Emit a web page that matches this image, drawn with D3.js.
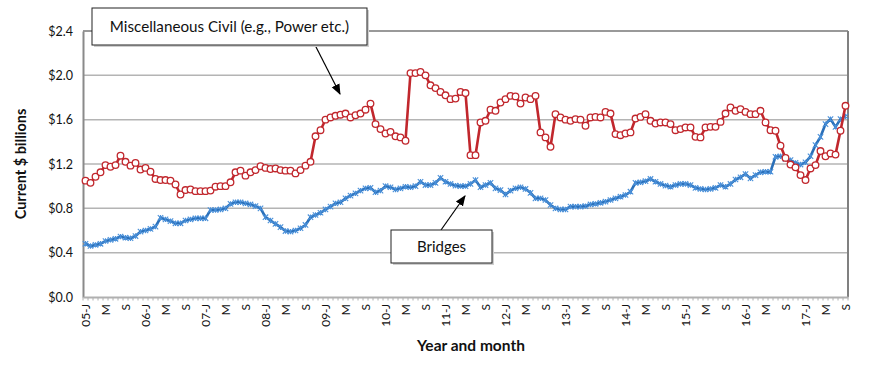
<!DOCTYPE html>
<html><head><meta charset="utf-8">
<script src="https://cdn.jsdelivr.net/npm/d3@7"></script>
<style>
body{margin:0;background:#fff;}
text{font-family:Lato,"Noto Sans",sans-serif;}
</style></head>
<body><svg id="c" width="870" height="368"></svg>
<script>
const tickLabels = ["05-J","M","S","06-J","M","S","07-J","M","S","08-J","M","S","09-J","M","S",
 "10-J","M","S","11-J","M","S","12-J","M","S","13-J","M","S","14-J","M","S",
 "15-J","M","S","16-J","M","S","17-J","M","S"];
const yTicks = [0,0.4,0.8,1.2,1.6,2.0,2.4];
const yTickLabels = ["$0.0","$0.4","$0.8","$1.2","$1.6","$2.0","$2.4"];
const miscCivil = [
 1.05,1.03,1.085,1.125,1.19,1.175,1.19,1.275,1.22,1.185,1.21,1.15,1.165,1.13,1.065,1.055,1.055,1.05,1.015,0.925,0.965,0.97,0.955,0.955,0.955,0.96,
 0.995,1.0,1.0,1.035,1.125,1.14,1.095,1.125,1.145,1.18,1.165,1.155,1.16,1.145,1.14,1.14,1.115,1.145,1.185,1.22,1.45,1.505,1.6,1.62,1.635,1.645,
 1.655,1.62,1.64,1.655,1.69,1.745,1.56,1.515,1.475,1.49,1.45,1.44,1.41,2.02,2.02,2.03,2.0,1.91,1.885,1.85,1.82,1.785,1.79,1.85,1.84,1.28,
 1.28,1.575,1.59,1.69,1.68,1.755,1.785,1.815,1.81,1.745,1.80,1.785,1.815,1.485,1.44,1.355,1.65,1.62,1.60,1.59,1.605,1.60,1.545,1.62,1.625,
 1.62,1.67,1.655,1.47,1.46,1.475,1.485,1.61,1.625,1.65,1.59,1.565,1.575,1.575,1.56,1.505,1.515,1.53,1.53,1.445,1.44,1.53,1.535,1.535,1.58,
 1.655,1.71,1.68,1.695,1.67,1.65,1.65,1.68,1.575,1.505,1.50,1.365,1.255,1.195,1.17,1.10,1.055,1.16,1.19,1.317,1.27,1.295,1.285,1.50,1.725];
const bridges = [
 0.48,0.46,0.47,0.48,0.505,0.515,0.525,0.545,0.535,0.53,0.55,0.59,0.60,0.615,0.635,0.715,0.70,0.685,0.665,0.665,0.69,0.70,0.71,0.71,0.71,
 0.785,0.785,0.79,0.80,0.84,0.855,0.855,0.845,0.835,0.82,0.80,0.72,0.69,0.66,0.63,0.595,0.59,0.60,0.62,0.65,0.72,0.74,0.76,0.79,0.815,
 0.845,0.855,0.89,0.915,0.935,0.96,0.98,0.985,0.945,0.96,1.0,0.99,0.97,0.98,0.995,0.99,1.0,1.04,1.01,1.01,1.03,1.075,1.04,1.02,1.005,1.0,
 1.0,1.02,1.055,0.99,1.01,1.03,0.98,0.965,0.925,0.96,0.98,0.99,0.975,0.94,0.89,0.89,0.875,0.83,0.80,0.79,0.79,0.815,0.815,0.815,0.82,0.835,
 0.84,0.85,0.86,0.875,0.89,0.905,0.92,0.95,1.03,1.035,1.045,1.065,1.04,1.02,1.005,0.995,1.01,1.02,1.02,1.01,0.985,0.975,0.97,0.975,0.985,
 1.01,0.995,1.02,1.06,1.08,1.11,1.07,1.10,1.125,1.13,1.13,1.265,1.27,1.245,1.235,1.21,1.195,1.215,1.27,1.37,1.445,1.56,1.605,1.535,1.605,1.63];

const svg = d3.select("#c");
const L=83, R=848, T=31, B=297;
const n = miscCivil.length;
const x = d3.scaleBand().domain(d3.range(n)).range([L,R]).paddingInner(0).paddingOuter(0);
const cx = i => x(i) + x.bandwidth()/2;
const y = d3.scaleLinear().domain([0,2.4]).range([B,T]);

// grid
svg.append("g").selectAll("line").data(yTicks.filter(v=>v>0 && v<2.4)).join("line")
 .attr("x1",L).attr("x2",R).attr("y1",d=>y(d)).attr("y2",d=>y(d))
 .attr("stroke","#b4b4b4").attr("stroke-width",1.5);
// top & right border
svg.append("line").attr("x1",L).attr("x2",R).attr("y1",y(2.4)).attr("y2",y(2.4)).attr("stroke","#777").attr("stroke-width",1.5);
svg.append("line").attr("x1",R).attr("x2",R).attr("y1",T).attr("y2",B).attr("stroke","#808080").attr("stroke-width",2);

// y axis
const yAxis = svg.append("g").attr("transform",`translate(${L},0)`)
 .call(d3.axisLeft(y).tickValues(yTicks).tickFormat((d,i)=>yTickLabels[i]).tickSize(0).tickPadding(10));
yAxis.select(".domain").attr("stroke","#8a8a8a").attr("stroke-width",2);
yAxis.selectAll("text").attr("font-size",12.5).attr("fill","#111").attr("font-family","Lato,sans-serif");

// x axis minor ticks (month boundaries)
svg.append("g").selectAll("line").data(d3.range(n+1)).join("line")
 .attr("x1",d=>L+d*x.step()).attr("x2",d=>L+d*x.step()).attr("y1",B).attr("y2",B+3.5)
 .attr("stroke","#b0b0b0").attr("stroke-width",1);
const xAxis = svg.append("g").attr("transform",`translate(0,${B})`)
 .call(d3.axisBottom(x).tickValues(d3.range(0,n,4)).tickFormat(i=>tickLabels[i/4]).tickSize(0).tickPadding(0));
xAxis.select(".domain").attr("stroke","#b0b0b0").attr("stroke-width",2);
xAxis.selectAll("text").attr("font-size",12).attr("fill","#111")
 .attr("text-anchor","end").attr("dy","0.35em")
 .attr("transform","translate(0,7) rotate(-90)").attr("x",0).attr("y",0);

// lines
const line = d3.line().x((d,i)=>cx(i)).y(d=>y(d));
svg.append("path").datum(bridges).attr("d",line).attr("fill","none").attr("stroke","#2a6fb8").attr("stroke-width",2.6);
const s=2.7;
svg.append("g").selectAll("path").data(bridges).join("path")
 .attr("d",(d,i)=>{const X=cx(i),Y=y(d);return `M${X-s},${Y-s}L${X+s},${Y+s}M${X-s},${Y+s}L${X+s},${Y-s}M${X},${Y-s}L${X},${Y+s}`;})
 .attr("stroke","#4a90d9").attr("stroke-width",1.1).attr("fill","none");

svg.append("path").datum(miscCivil).attr("d",line).attr("fill","none").attr("stroke","#c1272d").attr("stroke-width",2.6);
svg.append("g").selectAll("circle").data(miscCivil).join("circle")
 .attr("cx",(d,i)=>cx(i)).attr("cy",d=>y(d)).attr("r",3.3)
 .attr("fill","#fff").attr("stroke","#c1272d").attr("stroke-width",1.3);

// annotations
const defs = svg.append("defs");
defs.append("marker").attr("id","ah").attr("viewBox","0 0 10 10").attr("refX",9).attr("refY",5)
 .attr("markerWidth",9).attr("markerHeight",9).attr("orient","auto-start-reverse")
 .append("path").attr("d","M0,1L10,5L0,9Z").attr("fill","#000");

function box(x0,y0,w,h,label,fs){
 svg.append("rect").attr("x",x0+2).attr("y",y0+2).attr("width",w).attr("height",h).attr("fill","#cfcfcf");
 svg.append("rect").attr("x",x0).attr("y",y0).attr("width",w).attr("height",h).attr("fill","#fff").attr("stroke","#222").attr("stroke-width",1);
 svg.append("text").attr("x",x0+w/2).attr("y",y0+h/2).attr("dy","0.35em").attr("text-anchor","middle")
  .attr("font-size",fs).attr("fill","#111").text(label);
}
svg.append("line").attr("x1",315).attr("y1",45).attr("x2",340).attr("y2",94).attr("stroke","#000").attr("stroke-width",1.2).attr("marker-end","url(#ah)");
svg.append("line").attr("x1",441).attr("y1",230).attr("x2",465).attr("y2",196).attr("stroke","#000").attr("stroke-width",1.2).attr("marker-end","url(#ah)");
box(92,8,275,37,"Miscellaneous Civil (e.g., Power etc.)",15.2);
box(391,230,101,33,"Bridges",15);

// titles
svg.append("text").attr("transform","translate(26,164) rotate(-90)").attr("text-anchor","middle")
 .attr("font-size",14.5).attr("font-weight","bold").attr("fill","#111").text("Current $ billions");
svg.append("text").attr("x",471).attr("y",351).attr("text-anchor","middle")
 .attr("font-size",15.5).attr("font-weight","bold").attr("fill","#111").text("Year and month");
</script></body></html>
